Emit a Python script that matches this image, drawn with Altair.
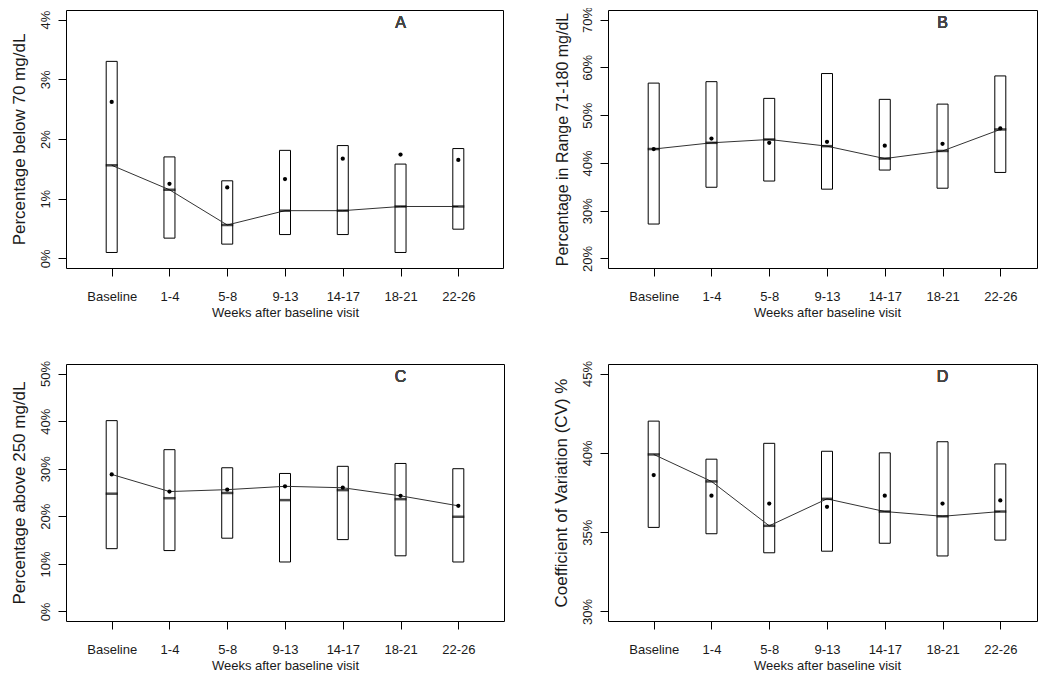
import altair as alt
import pandas as pd

weeks = ["Baseline", "1-4", "5-8", "9-13", "14-17", "18-21", "22-26"]

# Panel A: percentage below 70 mg/dL
a_q1 = [0.10, 0.34, 0.24, 0.40, 0.40, 0.10, 0.49]
a_q3 = [3.30, 1.70, 1.30, 1.81, 1.89, 1.58, 1.84]
a_med = [1.56, 1.15, 0.56, 0.80, 0.80, 0.87, 0.87]
a_mean = [2.62, 1.25, 1.19, 1.33, 1.67, 1.74, 1.65]
a_ticks = [0, 1, 2, 3, 4]

# Panel B: percentage in range 71-180 mg/dL
b_q1 = [27.2, 34.9, 36.2, 34.5, 38.5, 34.7, 38.0]
b_q3 = [56.7, 57.0, 53.5, 58.7, 53.3, 52.3, 58.2]
b_med = [42.9, 44.2, 44.9, 43.5, 40.9, 42.5, 47.0]
b_mean = [42.9, 45.1, 44.2, 44.4, 43.6, 44.0, 47.2]
b_ticks = [20, 30, 40, 50, 60, 70]

# Panel C: percentage above 250 mg/dL
c_q1 = [13.2, 12.8, 15.4, 10.4, 15.1, 11.7, 10.4]
c_q3 = [40.1, 34.0, 30.2, 29.0, 30.5, 31.1, 30.0]
c_med = [24.75, 23.8, 24.9, 23.4, 25.5, 23.6, 19.9]
c_mean = [28.8, 25.2, 25.6, 26.3, 26.0, 24.3, 22.2]
c_ticks = [0, 10, 20, 30, 40, 50]

# Panel D: coefficient of variation
d_q1 = [35.3, 34.9, 33.7, 33.8, 34.3, 33.5, 34.5]
d_q3 = [42.0, 39.6, 40.6, 40.1, 40.0, 40.7, 39.3]
d_med = [39.9, 38.2, 35.4, 37.1, 36.3, 36.0, 36.3]
d_mean = [38.6, 37.3, 36.8, 36.6, 37.3, 36.8, 37.0]
d_ticks = [30, 35, 40, 45]

FONT = "Liberation Sans"
INK = "#1a1a1a"


def panel(letter, q1, q3, med, mean, ticks, ytitle, line_on, width, height, title_size=17):
    df = pd.DataFrame({"week": weeks, "q1": q1, "q3": q3, "med": med, "mean": mean})
    lo, hi = ticks[0], ticks[-1]
    ext = (hi - lo) * 0.04
    yscale = alt.Scale(domain=[lo - ext, hi + ext], nice=False, zero=False)
    xscale = alt.Scale(type="point", padding=0, range=[45.7, 392.3])
    xenc = alt.X(
        "week:O",
        sort=weeks,
        scale=xscale,
        axis=alt.Axis(
            title="Weeks after baseline visit",
            labelAngle=0,
            tickSize=8,
            labelPadding=14,
            titlePadding=3,
            labelFontSize=13,
            titleFontSize=13,
            grid=False,
            domain=False,
            titleFontWeight="normal",
        ),
    )
    yaxis = alt.Axis(
        title=ytitle,
        values=ticks,
        labelExpr="datum.value + '%'",
        labelAngle=270,
        labelAlign="center",
        labelBaseline="alphabetic",
        labelPadding=9,
        tickSize=8,
        labelFontSize=13,
        titleFontSize=title_size,
        titlePadding=11,
        grid=False,
        domain=False,
        titleFontWeight="normal",
    )
    base = alt.Chart(df)
    boxes = base.mark_bar(size=11, fill="white", stroke="black", strokeWidth=1).encode(
        x=xenc,
        y=alt.Y("q1:Q", scale=yscale, axis=yaxis),
        y2="q3:Q",
    )
    line = base.mark_line(color="#333333", strokeWidth=1).encode(
        x=alt.X("week:O", sort=weeks), y=alt.Y(f"{line_on}:Q")
    )
    medians = base.mark_tick(color="black", thickness=2.5, size=12).encode(
        x=alt.X("week:O", sort=weeks), y=alt.Y("med:Q")
    )
    means = base.mark_circle(color="black", size=18, opacity=1).encode(
        x=alt.X("week:O", sort=weeks), y=alt.Y("mean:Q")
    )
    lab = base.mark_text(
        text=letter, fontSize=16, font=FONT, fontWeight="normal", color="#444444",
        baseline="alphabetic", dy=8,
    ).encode(x=alt.datum("18-21"), y=alt.datum(hi))
    return alt.layer(boxes, line, medians, means, lab).properties(width=width, height=height)


pa = panel("A", a_q1, a_q3, a_med, a_mean, a_ticks, "Percentage below 70 mg/dL", "med", 437, 258)
pb = panel("B", b_q1, b_q3, b_med, b_mean, b_ticks, "Percentage in Range 71-180 mg/dL", "med", 429, 258, title_size=16)
pc = panel("C", c_q1, c_q3, c_med, c_mean, c_ticks, "Percentage above 250 mg/dL", "mean", 438, 257)
pd_ = panel("D", d_q1, d_q3, d_med, d_mean, d_ticks, "Coefficient of Variation (CV) %", "med", 429, 257)

chart = (
    alt.concat(
        pa, pb, pc, pd_,
        columns=2,
        spacing={"row": 96, "column": 104},
        bounds="flush",
    )
    .properties(
        padding={"top": -2, "left": 1, "right": 0, "bottom": 0},
        background="white",
    )
    .configure_view(stroke="black", strokeWidth=1)
    .configure_axis(
        grid=False,
        domain=False,
        tickColor="black",
        labelColor=INK,
        titleColor=INK,
        labelFont=FONT,
        titleFont=FONT,
        titleFontWeight="normal",
    )
)

chart.save("out.html", embed_options={"renderer": "svg", "actions": False})
